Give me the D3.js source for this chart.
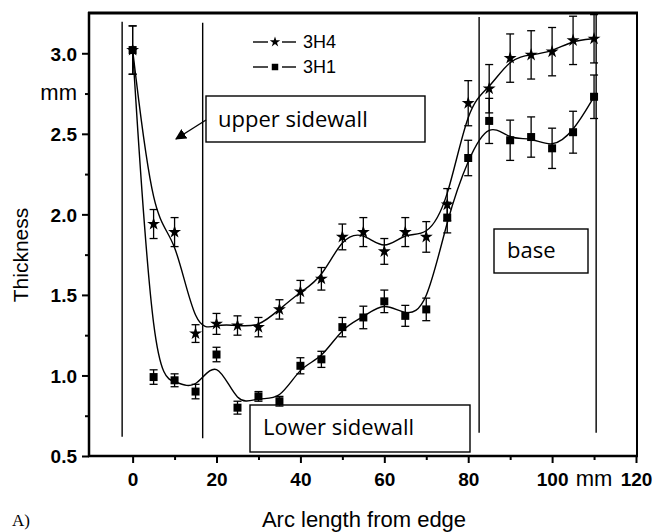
<!DOCTYPE html>
<html>
<head>
<meta charset="utf-8">
<script src="https://cdn.jsdelivr.net/npm/d3@7"></script>
<style>
  html, body { margin: 0; padding: 0; background: #fff; }
  svg { display: block; }
</style>
</head>
<body>
<svg id="chart" width="654" height="532"></svg>
<script>
// Arc length positions (mm) of the thickness measurements
const arcLength = [0, 5, 10, 15, 20, 25, 30, 35, 40, 45, 50, 55, 60, 65, 70, 75, 80, 85, 90, 95, 100, 105, 110];

// Sample 3H4 (star markers): wall thickness and its scatter (mm)
const thick3H4 = [3.02, 1.94, 1.89, 1.26, 1.32, 1.31, 1.30, 1.41, 1.52, 1.60, 1.86, 1.89, 1.77, 1.89, 1.86, 2.06, 2.69, 2.78, 2.97, 2.99, 3.01, 3.08, 3.09];
const err3H4   = [0.15, 0.09, 0.09, 0.055, 0.065, 0.06, 0.06, 0.06, 0.07, 0.07, 0.08, 0.09, 0.08, 0.09, 0.095, 0.10, 0.14, 0.15, 0.15, 0.15, 0.15, 0.15, 0.15];

// Sample 3H1 (square markers)
const thick3H1 = [3.02, 0.99, 0.97, 0.90, 1.13, 0.80, 0.87, 0.84, 1.06, 1.10, 1.30, 1.36, 1.46, 1.37, 1.41, 1.98, 2.35, 2.58, 2.46, 2.48, 2.41, 2.51, 2.73];
const err3H1   = [0.15, 0.045, 0.04, 0.045, 0.045, 0.04, 0.03, 0.03, 0.05, 0.05, 0.06, 0.07, 0.07, 0.065, 0.07, 0.095, 0.11, 0.14, 0.125, 0.125, 0.125, 0.13, 0.135];

// Axis ticks
const xMajorTicks = [0, 20, 40, 60, 80, 100, 120];
const xMinorTicks = [10, 30, 50, 70, 90];
const xUnitTick = 110;          // carries the "mm" unit label
const yMajorTicks = [0.5, 1.0, 1.5, 2.0, 2.5, 3.0];
const yMinorTicks = [0.75, 1.25, 1.75, 2.25];
const yUnitTick = 2.75;         // carries the "mm" unit label

// Region boundaries (arc length) and their vertical extent (thickness)
const regionX    = [-2.5, 16.7, 82.6, 110.5];
const regionYTop = [3.195, 3.19, 3.225, 3.24];
const regionYBot = [0.62, 0.61, 0.645, 0.645];

(function draw() {
const svg = d3.select("#chart");
const W = 654, H = 532;
const plotL = 89, plotR = 637, plotT = 13, plotB = 456;

const x = d3.scaleLinear().domain([-10.4, 120]).range([plotL, plotR - 1]);
const y = d3.scaleLinear().domain([0.5, 3.25]).range([plotB, plotT]);

svg.append("rect").attr("width", W).attr("height", H).attr("fill", "#fff");

const tickFont = "'Liberation Sans', Arimo, Arial, sans-serif";

// ---- x axis ----
const gx = svg.append("g").attr("transform", `translate(0,${plotB})`);
gx.call(d3.axisBottom(x).tickValues(xMajorTicks).tickSize(7).tickFormat(d3.format("d")))
  .call(g => g.select(".domain").remove());
gx.selectAll(".tick line").attr("stroke", "#000").attr("stroke-width", 2);
gx.selectAll(".tick text")
  .attr("font-family", tickFont).attr("font-weight", "bold").attr("font-size", 19)
  .attr("fill", "#000").attr("y", 10).attr("dy", "1.05em");
const gxm = svg.append("g").attr("transform", `translate(0,${plotB})`);
gxm.call(d3.axisBottom(x).tickValues(xMinorTicks.concat([xUnitTick])).tickSize(4).tickFormat(""))
  .call(g => g.select(".domain").remove());
gxm.selectAll(".tick line").attr("stroke", "#000").attr("stroke-width", 2);
svg.append("text")
  .attr("x", x(xUnitTick)).attr("y", plotB + 30)
  .attr("text-anchor", "middle")
  .attr("font-family", tickFont).attr("font-size", 22).attr("fill", "#000")
  .text("mm");

// ---- y axis ----
const gy = svg.append("g").attr("transform", `translate(${plotL},0)`);
gy.call(d3.axisLeft(y).tickValues(yMajorTicks).tickSize(7).tickFormat(d3.format(".1f")))
  .call(g => g.select(".domain").remove());
gy.selectAll(".tick line").attr("stroke", "#000").attr("stroke-width", 2);
gy.selectAll(".tick text")
  .attr("font-family", tickFont).attr("font-weight", "bold").attr("font-size", 19)
  .attr("fill", "#000").attr("x", -12).attr("dy", "0.36em");
const gym = svg.append("g").attr("transform", `translate(${plotL},0)`);
gym.call(d3.axisLeft(y).tickValues(yMinorTicks.concat([yUnitTick])).tickSize(4).tickFormat(""))
  .call(g => g.select(".domain").remove());
gym.selectAll(".tick line").attr("stroke", "#000").attr("stroke-width", 2);
svg.append("text")
  .attr("x", plotL - 12).attr("y", y(yUnitTick)).attr("dy", "0.3em")
  .attr("text-anchor", "end")
  .attr("font-family", tickFont).attr("font-size", 22).attr("fill", "#000")
  .text("mm");

// ---- frame ----
svg.append("line").attr("x1", plotL).attr("x2", plotL).attr("y1", plotT - 1).attr("y2", plotB + 1)
  .attr("stroke", "#000").attr("stroke-width", 2.5);
svg.append("line").attr("x1", plotL - 1).attr("x2", plotR + 1).attr("y1", plotB).attr("y2", plotB)
  .attr("stroke", "#000").attr("stroke-width", 2.5);
svg.append("line").attr("x1", plotL - 1).attr("x2", plotR + 1).attr("y1", plotT).attr("y2", plotT)
  .attr("stroke", "#000").attr("stroke-width", 3);
svg.append("line").attr("x1", plotR).attr("x2", plotR).attr("y1", plotT).attr("y2", plotB)
  .attr("stroke", "#000").attr("stroke-width", 2);

// ---- axis titles ----
svg.append("text")
  .attr("transform", `translate(28,${255}) rotate(-90)`)
  .attr("text-anchor", "middle")
  .attr("font-family", tickFont).attr("font-size", 21).attr("fill", "#000")
  .text("Thickness");
svg.append("text")
  .attr("x", 364).attr("y", 527)
  .attr("text-anchor", "middle")
  .attr("font-family", tickFont).attr("font-size", 22).attr("fill", "#000")
  .text("Arc length from edge");
svg.append("text")
  .attr("x", 12).attr("y", 526)
  .attr("font-family", "'Liberation Serif', 'Times New Roman', serif").attr("font-size", 17).attr("fill", "#000")
  .text("A)");

// ---- region boundaries ----
svg.append("g").selectAll("line").data(regionX).join("line")
  .attr("x1", d => x(d)).attr("x2", d => x(d))
  .attr("y1", (d, i) => y(regionYTop[i])).attr("y2", (d, i) => y(regionYBot[i]))
  .attr("stroke", "#000").attr("stroke-width", 1.4);

// ---- region annotations ----
const noteFont = "'Open Sans', Lato, sans-serif";
function note(x0, y0, w, h, label, tx, ty) {
  svg.append("rect").attr("x", x0).attr("y", y0).attr("width", w).attr("height", h)
    .attr("fill", "#fff").attr("stroke", "#000").attr("stroke-width", 1.4);
  svg.append("text").attr("x", tx).attr("y", ty)
    .attr("font-family", noteFont).attr("font-size", 22).attr("fill", "#000")
    .text(label);
}
note(206, 96, 219, 46, "upper sidewall", 218, 127);
note(494, 229, 94, 44, "base", 507, 258);
note(250, 405, 220, 47, "Lower sidewall", 263, 435);

// arrow from the upper sidewall label
svg.append("defs").append("marker")
  .attr("id", "arrowHead").attr("viewBox", "0 0 10 10").attr("refX", 9).attr("refY", 5)
  .attr("markerWidth", 11).attr("markerHeight", 11).attr("markerUnits", "userSpaceOnUse")
  .attr("orient", "auto")
  .append("path").attr("d", "M0,0 L10,5 L0,10 Z").attr("fill", "#000");
svg.append("line")
  .attr("x1", 206).attr("y1", 120).attr("x2", 176).attr("y2", 139)
  .attr("stroke", "#000").attr("stroke-width", 1.4)
  .attr("marker-end", "url(#arrowHead)");

// ---- series ----
const series = [
  { name: "3H4", values: thick3H4, errors: err3H4, symbol: d3.symbolStar, size: 52 },
  { name: "3H1", values: thick3H1, errors: err3H1, symbol: d3.symbolSquare, size: 64 }
];

const line = d3.line()
  .x((d, i) => x(arcLength[i]))
  .y(d => y(d))
  .curve(d3.curveBasis);

const capHalf = 4;
series.forEach(s => {
  const g = svg.append("g");
  g.append("path").attr("d", line(s.values))
    .attr("fill", "none").attr("stroke", "#000").attr("stroke-width", 1.4);

  const eb = g.append("g").selectAll("g").data(s.values).join("g")
    .attr("stroke", "#000").attr("stroke-width", 1.3);
  eb.append("line")
    .attr("x1", (d, i) => x(arcLength[i])).attr("x2", (d, i) => x(arcLength[i]))
    .attr("y1", (d, i) => y(d + s.errors[i])).attr("y2", (d, i) => y(d - s.errors[i]));
  eb.append("line")
    .attr("x1", (d, i) => x(arcLength[i]) - capHalf).attr("x2", (d, i) => x(arcLength[i]) + capHalf)
    .attr("y1", (d, i) => y(d + s.errors[i])).attr("y2", (d, i) => y(d + s.errors[i]));
  eb.append("line")
    .attr("x1", (d, i) => x(arcLength[i]) - capHalf).attr("x2", (d, i) => x(arcLength[i]) + capHalf)
    .attr("y1", (d, i) => y(d - s.errors[i])).attr("y2", (d, i) => y(d - s.errors[i]));

  g.append("g").selectAll("path").data(s.values).join("path")
    .attr("transform", (d, i) => `translate(${x(arcLength[i])},${y(d)})`)
    .attr("d", d3.symbol().type(s.symbol).size(s.size))
    .attr("fill", "#000");
});

// ---- legend ----
const legend = svg.append("g");
series.forEach((s, i) => {
  const ly = 42 + i * 25;
  legend.append("line").attr("x1", 253).attr("x2", 268).attr("y1", ly).attr("y2", ly)
    .attr("stroke", "#000").attr("stroke-width", 1.4);
  legend.append("line").attr("x1", 282).attr("x2", 296).attr("y1", ly).attr("y2", ly)
    .attr("stroke", "#000").attr("stroke-width", 1.4);
  legend.append("path").attr("transform", `translate(275,${ly})`)
    .attr("d", d3.symbol().type(s.symbol).size(s.symbol === d3.symbolStar ? 34 : 42))
    .attr("fill", "#000");
  legend.append("text").attr("x", 303).attr("y", ly).attr("dy", "0.36em")
    .attr("font-family", tickFont).attr("font-size", 18).attr("fill", "#000")
    .text(s.name);
});
})();
</script>
</body>
</html>
